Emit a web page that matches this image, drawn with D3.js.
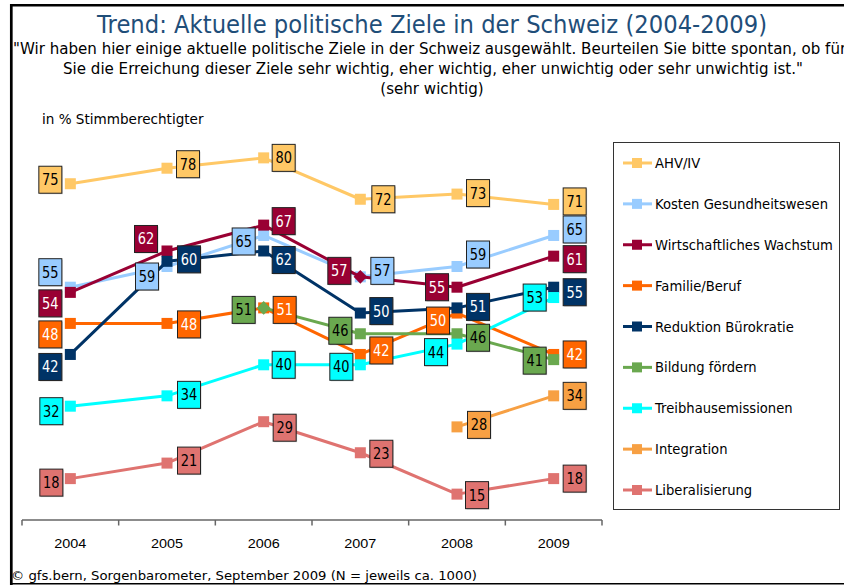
<!DOCTYPE html>
<html lang="de">
<head>
  <meta charset="UTF-8">
  <style>
    body { margin: 0; background: #fff; }
    svg { display: block; font-family: "DejaVu Sans", Verdana, sans-serif; }
    .line { fill: none; stroke-width: 3; stroke-linejoin: round; }
    .axis path { display: none; }
    .axis text { fill: #000; }
    .box-text { text-anchor: middle; }
  </style>
  <script src="https://d3js.org/d3.v7.min.js"></script>
</head>
<body>
  <svg id="chart" width="844" height="585"></svg>

  <script>
    // categories
    const years = ["2004", "2005", "2006", "2007", "2008", "2009"];

    // series values (% sehr wichtig), null = not asked
    const ahvIv        = [75, 78, 80, 72, 73, 71];
    const kosten       = [55, 59, 65, 57, 59, 65];
    const wachstum     = [54, 62, 67, 57, 55, 61];
    const familie      = [48, 48, 51, 42, 50, 42];
    const buerokratie  = [42, 60, 62, 50, 51, 55];
    const bildung      = [null, null, 51, 46, 46, 41];
    const treibhaus    = [32, 34, 40, 40, 44, 53];
    const integration  = [null, null, null, null, 28, 34];
    const liberal      = [18, 21, 29, 23, 15, 18];

    const seriesNames = ["AHV/IV", "Kosten Gesundheitswesen", "Wirtschaftliches Wachstum",
      "Familie/Beruf", "Reduktion Bürokratie", "Bildung fördern",
      "Treibhausemissionen", "Integration", "Liberalisierung"];
    const seriesValues = [ahvIv, kosten, wachstum, familie, buerokratie,
      bildung, treibhaus, integration, liberal];

    // styling
    const colors = ["#ffc866", "#99ccff", "#990033", "#ff6600", "#003366",
      "#6aa84f", "#00ffff", "#f7a043", "#df7370"];
    const textColors = ["#000", "#000", "#fff", "#fff", "#fff", "#000", "#000", "#000", "#000"];
    // diamond markers instead of squares: [series, year index]
    const diamonds = [[2, 3], [5, 2]];

    // label box shifts relative to the marker (layout only)
    const labelShift = [
      [[-20, -4], [21, -4], [20, 0], [23, 0], [21, -1], [21, -3]],
      [[-20, -15], [-20, 10], [-20, 6], [22, -6], [21, -12], [21, -6]],
      [[-20, 11], [-21, -12], [20, -4], [-21, -6], [-20, 0], [21, 3]],
      [[-20, 11], [22, 1], [21, 2], [21, -4], [-19, 7.5], [21, 0]],
      [[-20, 12.5], [22, -2], [20, 9], [21, -2], [21, -1], [21, 5]],
      [null, null, [-20, 2], [-20, -3], [21, 4], [-19, 1]],
      [[-19, 5], [22, -1], [20, 0], [-19, 2], [-21, 8], [-19, 0]],
      [null, null, null, null, [22, -2], [21, 0]],
      [[-19, 4], [22, -2.5], [21, 6], [21, 1], [20, 1], [21, 0]]
    ];

    const svg = d3.select("#chart");

    // squeeze DejaVu text horizontally (Tahoma-like): to a width, or by a ratio
    function squeeze(sel, width, ratio) {
      sel.each(function () {
        const w = this.getComputedTextLength();
        d3.select(this).attr("lengthAdjust", "spacingAndGlyphs")
          .attr("textLength", width != null ? width : w * ratio);
      });
    }
    const narrow = 0.87;

    // frame
    svg.append("line").attr("x1", 10).attr("x2", 844).attr("y1", 5.3).attr("y2", 5.3)
      .attr("stroke", "#000").attr("stroke-width", 2.6);
    svg.append("line").attr("x1", 11.3).attr("x2", 11.3).attr("y1", 4).attr("y2", 585)
      .attr("stroke", "#000").attr("stroke-width", 2.7);
    svg.append("line").attr("x1", 10).attr("x2", 844).attr("y1", 583.7).attr("y2", 583.7)
      .attr("stroke", "#000").attr("stroke-width", 1.5);

    // titles
    const title = svg.append("text").attr("x", 432).attr("y", 33)
      .attr("text-anchor", "middle").attr("font-size", 25).attr("fill", "#1f4e79")
      .text("Trend: Aktuelle politische Ziele in der Schweiz (2004-2009)");
    squeeze(title, 670);

    const sub2 = svg.append("text").attr("x", 433).attr("y", 74)
      .attr("text-anchor", "middle").attr("font-size", 15)
      .text("Sie die Erreichung dieser Ziele sehr wichtig, eher wichtig, eher unwichtig oder sehr unwichtig ist.\"");
    const subRatio = 740 / sub2.node().getComputedTextLength();
    squeeze(sub2, 740);
    const sub1 = svg.append("text").attr("x", 13).attr("y", 54).attr("font-size", 15)
      .text("\"Wir haben hier einige aktuelle politische Ziele in der Schweiz ausgewählt. Beurteilen Sie bitte spontan, ob für");
    squeeze(sub1, null, subRatio);
    const sub3 = svg.append("text").attr("x", 432).attr("y", 94).attr("text-anchor", "middle")
      .attr("font-size", 15).text("(sehr wichtig)");
    squeeze(sub3, null, subRatio);

    const unit = svg.append("text").attr("x", 42).attr("y", 124).attr("font-size", 13.5)
      .text("in % Stimmberechtigter");
    squeeze(unit, null, subRatio);

    const foot = svg.append("text").attr("x", 11).attr("y", 580).attr("font-size", 13)
      .text("© gfs.bern, Sorgenbarometer, September 2009 (N = jeweils ca. 1000)");
    squeeze(foot, 466);

    // scales
    const x = d3.scaleBand().domain(years).range([22, 602]);
    const cx = d => x(d) + x.bandwidth() / 2;
    const y = d3.scaleLinear().domain([10, 85]).range([520, 132]);

    // x axis
    const gAxis = svg.append("g").attr("class", "axis")
      .attr("transform", "translate(0,520)")
      .call(d3.axisBottom(x).tickSize(0).tickPadding(18));
    gAxis.selectAll("text").attr("font-size", 13.5).attr("font-family", null);
    squeeze(gAxis.selectAll("text"), 32);
    svg.append("line").attr("x1", x.range()[0]).attr("x2", x.range()[1])
      .attr("y1", 520).attr("y2", 520).attr("stroke", "#666").attr("stroke-width", 1.5);
    svg.selectAll(".btick").data(years.map(d => x(d)).concat([x.range()[1]]))
      .enter().append("line").attr("class", "btick")
      .attr("x1", d => d).attr("x2", d => d).attr("y1", 520).attr("y2", 525.5)
      .attr("stroke", "#666").attr("stroke-width", 1.5);

    // series data
    const series = seriesNames.map((name, i) => ({
      name, i, color: colors[i],
      pts: seriesValues[i].map((v, j) => ({ v, j, year: years[j] }))
    }));

    const line = d3.line().defined(d => d.v != null)
      .x(d => cx(d.year)).y(d => y(d.v));

    const isDiamond = (i, j) => diamonds.some(d => d[0] === i && d[1] === j);

    const gSeries = svg.selectAll(".series").data(series).enter().append("g");
    gSeries.append("path").attr("class", "line")
      .attr("stroke", d => d.color).attr("d", d => line(d.pts));
    gSeries.each(function (s) {
      const g = d3.select(this);
      s.pts.filter(p => p.v != null).forEach(p => {
        if (isDiamond(s.i, p.j)) {
          g.append("rect").attr("x", -4.8).attr("y", -4.8).attr("width", 9.6).attr("height", 9.6)
            .attr("fill", s.color)
            .attr("transform", `translate(${cx(p.year)},${y(p.v)}) rotate(45)`);
        } else {
          g.append("rect").attr("x", cx(p.year) - 5.5).attr("y", y(p.v) - 5.5)
            .attr("width", 11).attr("height", 11).attr("fill", s.color);
        }
      });
    });

    // value label boxes
    const labels = [];
    series.forEach(s => s.pts.forEach(p => {
      if (p.v == null) return;
      const sh = labelShift[s.i][p.j];
      labels.push({ s, p, lx: cx(p.year) + sh[0], ly: y(p.v) + sh[1] });
    }));
    const gLab = svg.selectAll(".lab").data(labels).enter().append("g").attr("class", "lab")
      .attr("transform", d => `translate(${d.lx},${d.ly})`);
    gLab.append("rect").attr("x", -10.5).attr("y", -12.5).attr("width", 23).attr("height", 27)
      .attr("fill", "#000").attr("opacity", 0.18);
    gLab.append("rect").attr("x", -11.5).attr("y", -13.5).attr("width", 23).attr("height", 27)
      .attr("fill", d => d.s.color).attr("stroke", "#222").attr("stroke-width", 1);
    const boxTexts = gLab.append("text").attr("class", "box-text").attr("y", 5.5)
      .attr("font-size", 15).attr("fill", d => textColors[d.s.i])
      .text(d => d.p.v);
    squeeze(boxTexts, 16.5);

    // legend
    const legend = svg.append("g");
    legend.append("rect").attr("x", 613.5).attr("y", 142.5).attr("width", 226).attr("height", 367)
      .attr("fill", "#fff").attr("stroke", "#333").attr("stroke-width", 1);
    const legY = d3.scalePoint().domain(seriesNames).range([163, 490]);
    const items = legend.selectAll(".item").data(series).enter().append("g")
      .attr("transform", d => `translate(0,${legY(d.name)})`);
    items.append("line").attr("x1", 623).attr("x2", 652).attr("stroke", d => d.color)
      .attr("stroke-width", 3);
    items.append("rect").attr("x", 632).attr("y", -5).attr("width", 10).attr("height", 10)
      .attr("fill", d => d.color);
    const legTexts = items.append("text").attr("x", 655).attr("y", 5).attr("font-size", 13.7)
      .text(d => d.name);
    const legRatio = 173 / legTexts.filter(d => d.i === 1).node().getComputedTextLength();
    squeeze(legTexts, null, legRatio);
  </script>
</body>
</html>
